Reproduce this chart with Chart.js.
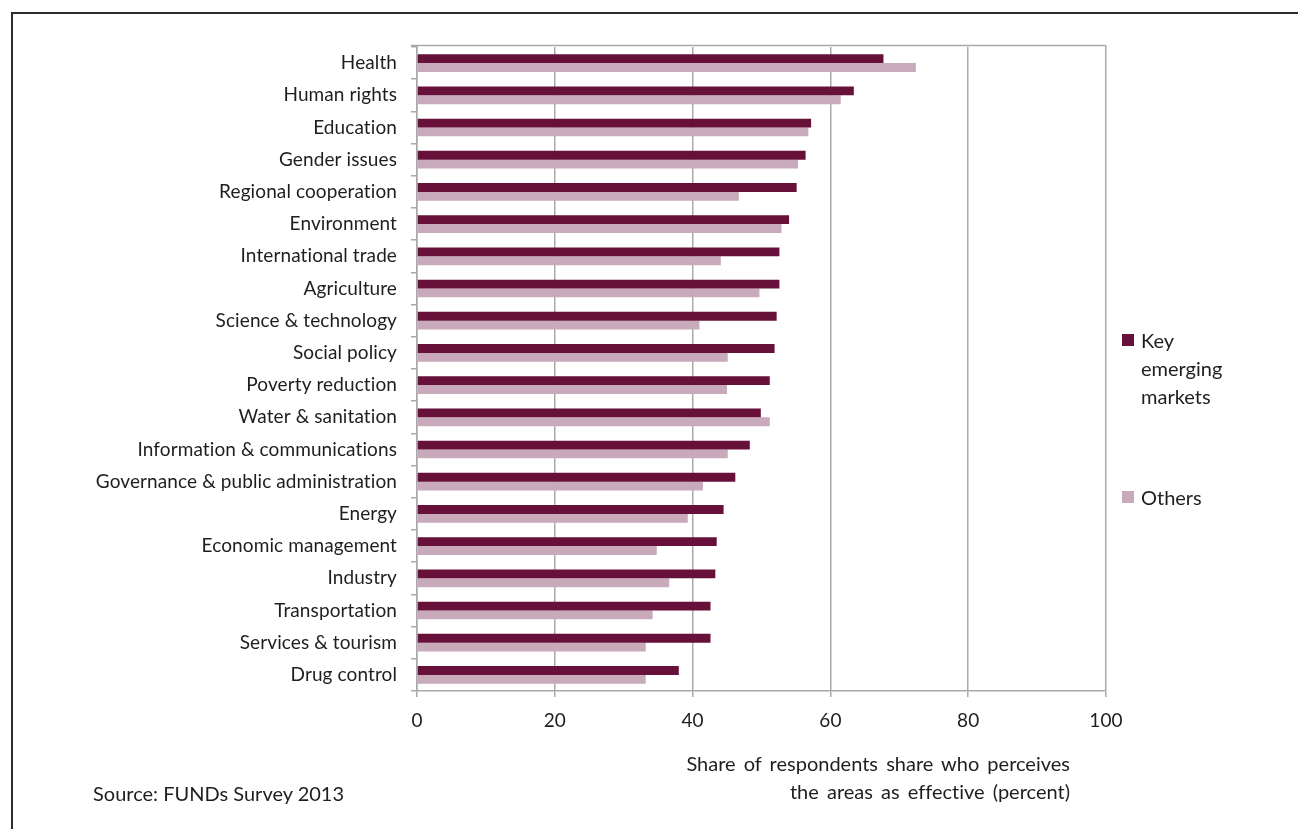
<!DOCTYPE html>
<html lang="en">
<head>
    <meta charset="UTF-8">
    <title>Effectiveness by area - FUNDs Survey 2013</title>
    <script src="https://cdn.jsdelivr.net/npm/chart.js"></script>
    <style>
        body {
            margin: 0;
            background: white;
            font-family: Lato, "Open Sans", sans-serif;
            color: #1e1e1e;
        }

        .page {
            position: relative;
            width: 1298px;
            height: 829px;
            overflow: hidden;
        }

        .frame {
            position: absolute;
            left: 11px;
            top: 12px;
            width: 1400px;
            height: 900px;
            border-top: 2px solid #2b2b2b;
            border-left: 2px solid #2b2b2b;
        }

        .chart-box {
            position: absolute;
            left: 0;
            top: 0;
            width: 1298px;
            height: 829px;
        }

        .legend {
            position: absolute;
            left: 1122px;
            top: 326px;
            font-size: 20px;
            line-height: 28px;
        }

        .legend-item {
            display: flex;
            align-items: flex-start;
            margin-bottom: 73px;
        }

        .legend-swatch {
            width: 12px;
            height: 12px;
            margin-top: 8px;
            margin-right: 7px;
            flex: none;
        }

        .legend-text {
            width: 95px;
        }

        .axis-caption {
            position: absolute;
            right: 228px;
            top: 749px;
            font-size: 20px;
            line-height: 28px;
            word-spacing: 3px;
            text-align: right;
            white-space: nowrap;
            font-variant-ligatures: none;
        }

        .source {
            position: absolute;
            left: 93px;
            top: 781px;
            font-size: 20px;
        }
    </style>
</head>
<body>
    <div class="page">
        <div class="frame"></div>
        <div class="chart-box">
            <canvas id="areasChart"></canvas>
        </div>
        <div class="legend" id="legend"></div>
        <div class="axis-caption">Share of respondents share who perceives<br>the areas as effective (percent)</div>
        <div class="source">Source: FUNDs Survey 2013</div>
    </div>

    <script>
        const categories = [
            'Health', 'Human rights', 'Education', 'Gender issues', 'Regional cooperation',
            'Environment', 'International trade', 'Agriculture', 'Science & technology',
            'Social policy', 'Poverty reduction', 'Water & sanitation',
            'Information & communications', 'Governance & public administration', 'Energy',
            'Economic management', 'Industry', 'Transportation', 'Services & tourism',
            'Drug control'
        ];

        const keyEmerging = [
            67.7, 63.4, 57.2, 56.4, 55.1,
            54.0, 52.6, 52.6, 52.2,
            51.9, 51.2, 49.9,
            48.3, 46.2, 44.5,
            43.5, 43.3, 42.6, 42.6,
            38.0
        ];

        const others = [
            72.4, 61.5, 56.8, 55.3, 46.7,
            52.9, 44.1, 49.7, 41.0,
            45.1, 45.0, 51.2,
            45.1, 41.5, 39.3,
            34.8, 36.6, 34.2, 33.2,
            33.2
        ];

        const xTicks = [0, 20, 40, 60, 80, 100];

        const seriesLabels = ['Key emerging markets', 'Others'];
        const seriesColors = ['#66103a', '#c9aabb'];

        const gridGray = '#a9a9a9';

        // closes the plot box along the top edge; also turns off the Lato "ti" ligature
        const plotFrame = {
            id: 'plotFrame',
            beforeDraw(chart) {
                chart.ctx.letterSpacing = '0.1px';
            },
            beforeDatasetsDraw(chart) {
                const { ctx, chartArea } = chart;
                const y = chartArea.top - 1.5;
                ctx.save();
                ctx.strokeStyle = gridGray;
                ctx.lineWidth = 1.5;
                ctx.beginPath();
                ctx.moveTo(chartArea.left - 6, y);
                ctx.lineTo(chartArea.right, y);
                ctx.moveTo(chartArea.left, y);
                ctx.lineTo(chartArea.left, chartArea.top);
                ctx.moveTo(chartArea.right, y);
                ctx.lineTo(chartArea.right, chartArea.top);
                ctx.stroke();
                ctx.restore();
            }
        };

        const ctx = document.getElementById('areasChart').getContext('2d');

        const chart = new Chart(ctx, {
            type: 'bar',
            data: {
                labels: categories,
                datasets: [
                    {
                        label: seriesLabels[0],
                        data: keyEmerging,
                        backgroundColor: seriesColors[0],
                        borderWidth: 0
                    },
                    {
                        label: seriesLabels[1],
                        data: others,
                        backgroundColor: seriesColors[1],
                        borderWidth: 0
                    }
                ]
            },
            options: {
                indexAxis: 'y',
                responsive: true,
                maintainAspectRatio: false,
                animation: false,
                datasets: {
                    bar: {
                        categoryPercentage: 0.55,
                        barPercentage: 1.0
                    }
                },
                layout: {
                    padding: { left: 0, top: 47, right: 192, bottom: 90 }
                },
                plugins: {
                    legend: { display: false },
                    tooltip: { enabled: false }
                },
                scales: {
                    x: {
                        min: 0,
                        max: 100,
                        afterBuildTicks(scale) {
                            scale.ticks = xTicks.map(v => ({ value: v }));
                        },
                        afterFit(scale) {
                            scale.height = 48;
                        },
                        grid: {
                            color: gridGray,
                            lineWidth: 1.5,
                            tickLength: 6,
                            tickColor: gridGray
                        },
                        border: {
                            color: gridGray,
                            width: 1.5
                        },
                        ticks: {
                            color: '#1e1e1e',
                            padding: 12,
                            font: { family: 'Lato', size: 19 }
                        }
                    },
                    y: {
                        afterFit(scale) {
                            scale.width = 417;
                        },
                        grid: {
                            drawOnChartArea: false,
                            offset: true,
                            tickLength: 6,
                            tickColor: gridGray,
                            lineWidth: 1.5
                        },
                        border: {
                            color: gridGray,
                            width: 1.5
                        },
                        ticks: {
                            color: '#1e1e1e',
                            padding: 14,
                            autoSkip: false,
                            font: { family: 'Lato', size: 19 }
                        }
                    }
                }
            },
            plugins: [plotFrame]
        });

        // legend built from the chart's own datasets
        const legendEl = document.getElementById('legend');
        chart.data.datasets.forEach(ds => {
            const item = document.createElement('div');
            item.className = 'legend-item';
            const swatch = document.createElement('span');
            swatch.className = 'legend-swatch';
            swatch.style.background = ds.backgroundColor;
            const text = document.createElement('span');
            text.className = 'legend-text';
            text.textContent = ds.label;
            item.appendChild(swatch);
            item.appendChild(text);
            legendEl.appendChild(item);
        });
    </script>
</body>
</html>
